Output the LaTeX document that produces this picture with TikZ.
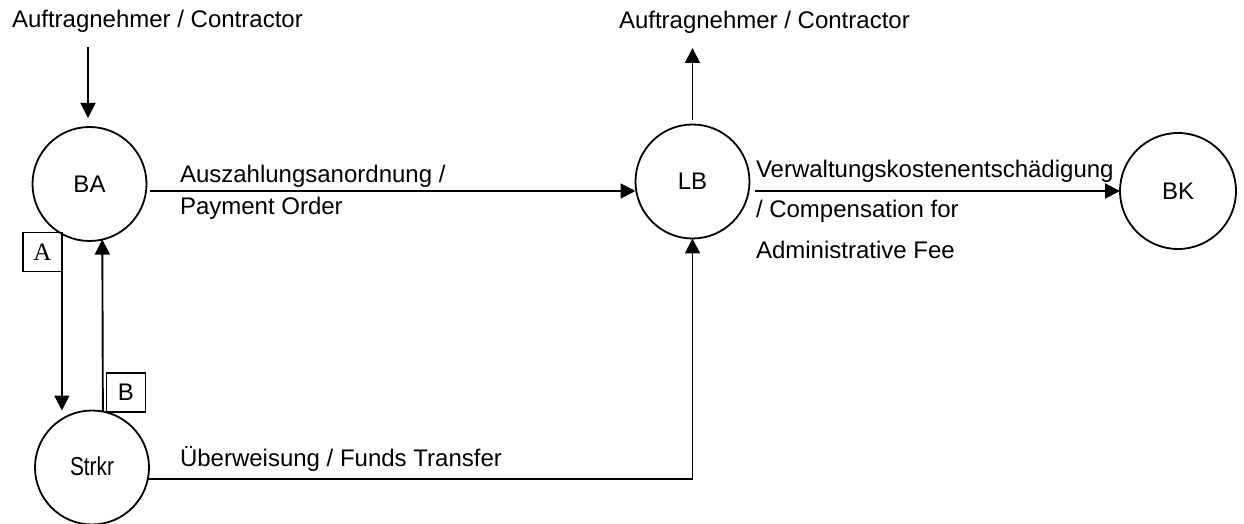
\documentclass[tikz,border=0pt]{standalone}
\usepackage{fontspec}
\usepackage{graphicx}
\setmainfont{Liberation Sans}
\newfontfamily\serifA{Liberation Serif}
\usetikzlibrary{arrows.meta}
\tikzset{
  arr/.style={-{Triangle[length=7.5pt,width=7.5pt]}, line width=0.95pt},
  stelle/.style={circle, draw, line width=0.9pt, inner sep=0pt, outer sep=0pt, minimum size=57pt, font=\fontsize{12}{14}\selectfont},
  lbl/.style={anchor=base west, inner sep=0pt, outer sep=0pt, font=\fontsize{12}{14}\selectfont},
  tagbox/.style={draw, line width=0.7pt, inner sep=0pt, outer sep=0pt, minimum width=19.5pt, minimum height=19.5pt}
}
\begin{document}
\begin{tikzpicture}[x=0.5pt,y=-0.5pt]
\useasboundingbox (0,0) rectangle (1244,524);
% circles
\node[stelle] (BA) at (89.5,184) {BA};
\node[stelle] (LB) at (692.5,181.5) {LB};
\node[stelle, minimum size=58pt] (BK) at (1178,191) {BK};
\node[stelle] (Strkr) at (92,467.5) {};
\node[inner sep=0pt, font=\fontsize{13}{15}\selectfont] (StrkrTxt) at (92,466) {\scalebox{0.8}[1]{Strkr}};
% texts
\node[lbl] (tl) at (12,28) {Auftragnehmer / Contractor};
\node[lbl] (tr) at (619,29) {Auftragnehmer / Contractor};
\node[lbl] (pay1) at (180,183) {Auszahlungsanordnung /};
\node[lbl] (pay2) at (180,215) {Payment Order};
\node[lbl] (fee1) at (756,178) {Verwaltungskostenentschädigung};
\node[lbl] (fee2) at (756,218) {/ Compensation for};
\node[lbl] (fee3) at (756,258) {Administrative Fee};
\node[lbl] (funds) at (180,466) {Überweisung / Funds Transfer};
% tag boxes
\node[tagbox, font=\serifA\fontsize{12.5}{14}\selectfont] (boxA) at (42.5,252) {A};
\node[tagbox, font=\fontsize{12}{14}\selectfont] (boxB) at (126,392.5) {B};
% helper coordinates
\coordinate (tlarr) at (88,47);
\coordinate (trarr) at (693,48);
\coordinate (p1) at (150,191);
\coordinate (p2) at (755,191);
\coordinate (p3) at (148,479);
% connectors
\draw[arr, shorten >=4.5pt] (tlarr) -- (tlarr |- BA.north);
\draw[arr, shorten <=2pt] (LB.north) -- (LB.north |- trarr);
\draw[arr] (p1) -- (p1 -| LB.west);
\draw[arr] (p2) -- (BK.west);
\draw[arr] (BA.241) -- (BA.241 |- Strkr.north);
\draw[arr] (Strkr.79) -- (BA.283);
\draw[arr] (p3) -- (p3 -| LB.south) -- (LB.south);
\end{tikzpicture}
\end{document}
